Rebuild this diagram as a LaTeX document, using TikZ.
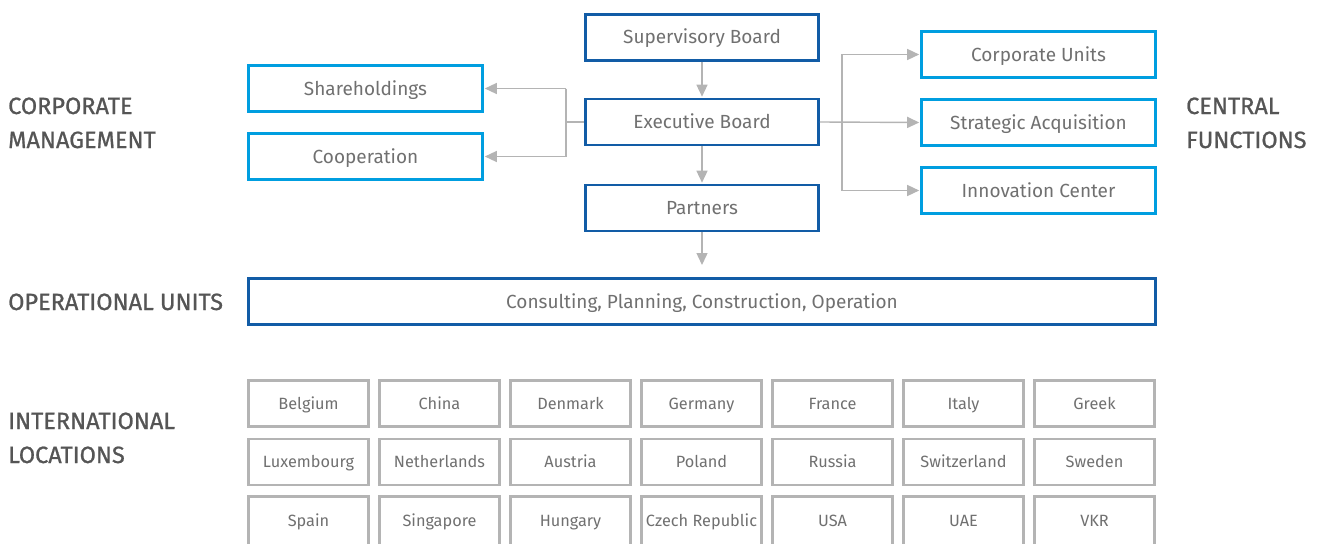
\documentclass[tikz,border=0pt]{standalone}
\usepackage{fontspec}
\setmainfont{Fira Sans}
\newfontfamily\medf{Fira Sans}[FakeBold=0.9]
\usetikzlibrary{arrows.meta,positioning}
\definecolor{darkblue}{RGB}{18,92,166}
\definecolor{lightblue}{RGB}{0,158,224}
\definecolor{txtgray}{RGB}{112,112,112}
\definecolor{lblgray}{RGB}{85,85,85}
\definecolor{linegray}{RGB}{180,180,180}
\tikzset{
  base/.style={draw, line width=2.6pt, inner sep=0pt, text=txtgray, font=\fontsize{19}{21}\selectfont, text height=16pt, text depth=3pt},
  darkbox/.style={base, draw=darkblue, minimum width=233pt, minimum height=46pt},
  lightbox/.style={base, draw=lightblue, minimum width=234pt, minimum height=46pt},
  cbox/.style={draw=linegray, line width=2.6pt, inner sep=0pt, minimum width=120pt, minimum height=46pt, text=txtgray, font=\fontsize{16.3}{18}\selectfont, text height=14.5pt, text depth=3pt},
  lbl/.style={anchor=base west, inner sep=0pt, text=lblgray, font=\medf\fontsize{23.5}{26}\selectfont},
  conn/.style={draw=linegray, line width=1.4pt},
  arr/.style={conn, -{Triangle[length=12pt,width=11pt]}, shorten >=1pt}
}
\begin{document}
\begin{tikzpicture}[x=1pt,y=-1pt]
\useasboundingbox (0,0) rectangle (1321,543);
\clip (0,0) rectangle (1321,543);
% central column
\node[darkbox] (sb) at (702,37.5) {Supervisory Board};
\node[darkbox] (eb) at (702,122) {Executive Board};
\node[darkbox] (pa) at (702,208) {Partners};
\node[base, draw=darkblue, minimum width=907pt, minimum height=46pt] (ou) at (702,301.5) {Consulting, Planning, Construction, Operation};
% left
\node[lightbox] (sh) at (365.5,88.5) {Shareholdings};
\node[lightbox] (co) at (365.5,156.5) {Cooperation};
% right
\node[lightbox] (cu) at (1038.5,54.5) {Corporate Units};
\node[lightbox] (sa) at (1038.5,122.5) {Strategic Acquisition};
\node[lightbox] (ic) at (1038.5,190.5) {Innovation Center};
% labels
\node[lbl] (l1) at (8,114) {CORPORATE};
\node[lbl] (l2) at (8,148) {MANAGEMENT};
\node[lbl] (l3) at (1186,114) {CENTRAL};
\node[lbl] (l4) at (1186,148) {FUNCTIONS};
\node[lbl] (l5) at (8,310) {OPERATIONAL UNITS};
\node[lbl] (l6) at (8,429) {INTERNATIONAL};
\node[lbl] (l7) at (8,463) {LOCATIONS};
% vertical arrows
\draw[arr] (sb.south) -- (eb.north);
\draw[arr] (eb.south) -- (pa.north);
\coordinate (ouin) at (702,266);
\draw[arr] (pa.south) -- (ouin);
% left connectors
\coordinate (lj) at (566,122);
\draw[conn] (eb.west) -- (lj);
\draw[conn] (lj |- sh.east) -- (lj |- co.east);
\draw[arr] (lj |- sh.east) -- (sh.east);
\draw[arr] (lj |- co.east) -- (co.east);
% right connectors
\coordinate (rj) at (842,122);
\draw[arr] (eb.east) -- (sa.west);
\draw[conn] (rj |- cu.west) -- (rj |- ic.west);
\draw[arr] (rj |- cu.west) -- (cu.west);
\draw[arr] (rj |- ic.west) -- (ic.west);
% country grid
\foreach \name [count=\i from 0] in {Belgium,China,Denmark,Germany,France,Italy,Greek}
  \node[cbox] (r1c\i) at (308.5+131*\i,403.5) {\name};
\foreach \name [count=\i from 0] in {Luxembourg,Netherlands,Austria,Poland,Russia,Switzerland,Sweden}
  \node[cbox] (r2c\i) at (308.5+131*\i,462) {\name};
\foreach \name [count=\i from 0] in {Spain,Singapore,Hungary,Czech Republic,USA,UAE,VKR}
  \node[cbox, minimum height=49pt] (r3c\i) at (308.5+131*\i,521) {\name};
\end{tikzpicture}
\end{document}
